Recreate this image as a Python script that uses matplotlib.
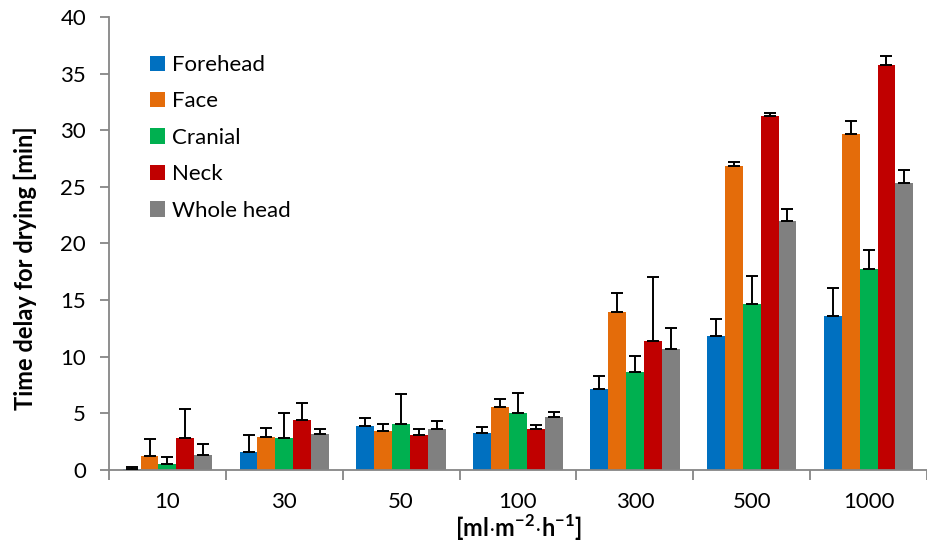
import numpy as np
import matplotlib
matplotlib.use('Agg')
import matplotlib.pyplot as plt

# Flow rates and measured drying delays (mean and upper SD)
flow_rates = ['10', '30', '50', '100', '300', '500', '1000']
regions = ['Forehead', 'Face', 'Cranial', 'Neck', 'Whole head']
colors = ['#0070C0', '#E46C0A', '#00B050', '#C00000', '#808080']

forehead = [0.10, 1.56, 3.88, 3.29, 7.15, 11.86, 13.59]
face = [1.24, 2.91, 3.41, 5.56, 13.91, 26.80, 29.65]
cranial = [0.53, 2.82, 4.06, 5.03, 8.68, 14.65, 17.71]
neck = [2.80, 4.38, 3.12, 3.62, 11.41, 31.27, 35.80]
whole_head = [1.29, 3.18, 3.62, 4.68, 10.65, 21.97, 25.30]

forehead_sd = [0.15, 1.53, 0.71, 0.47, 1.15, 1.47, 2.50]
face_sd = [1.47, 0.83, 0.68, 0.73, 1.68, 0.38, 1.18]
cranial_sd = [0.65, 2.24, 2.68, 1.79, 1.35, 2.50, 1.76]
neck_sd = [2.60, 1.50, 0.50, 0.35, 5.60, 0.27, 0.76]
whole_head_sd = [1.00, 0.47, 0.70, 0.44, 1.85, 1.06, 1.20]

means = [forehead, face, cranial, neck, whole_head]
sds = [forehead_sd, face_sd, cranial_sd, neck_sd, whole_head_sd]

plt.rcParams['font.family'] = ['Lato', 'DejaVu Sans']
plt.rcParams['mathtext.fontset'] = 'custom'
plt.rcParams['mathtext.rm'] = 'Lato'
plt.rcParams['mathtext.bf'] = 'Lato:bold'

fig = plt.figure(figsize=(9.27, 5.46), dpi=100)
ax = fig.add_axes([109 / 927, 76 / 546, 1 - 109 / 927, 453 / 546])

x = np.arange(len(flow_rates))
width = 0.153
for i, (name, vals, err, c) in enumerate(zip(regions, means, sds, colors)):
    pos = x + (i - 2) * width
    ax.bar(pos, vals, width, color=c, label=name, zorder=2)
    ax.errorbar(pos, vals, yerr=[np.zeros(len(vals)), err], fmt='none',
                ecolor='black', elinewidth=1.4, capsize=4.5, capthick=1.4,
                zorder=3)

ax.set_ylim(0, 40)
ax.set_xlim(-0.5, 6.43)
ax.set_yticks(np.arange(0, 41, 5))

# category boundaries as tick marks, labels at centres
ax.set_xticks(np.arange(-0.5, 7, 1))
ax.set_xticklabels([])
ax.set_xticks(x, minor=True)
ax.set_xticklabels(flow_rates, minor=True)
ax.tick_params(axis='x', which='major', length=7, width=1.3, color='#868686')
ax.tick_params(axis='x', which='minor', length=0, pad=16, labelsize=16)
ax.tick_params(axis='y', length=6.5, width=1.3, color='#868686', labelsize=16, pad=10)

for s in ['top', 'right']:
    ax.spines[s].set_visible(False)
for s in ['left', 'bottom']:
    ax.spines[s].set_color('#868686')
    ax.spines[s].set_linewidth(1.3)

fig.text(25 / 927, 1 - 268 / 546, 'Time delay for drying [min]', rotation=90,
         ha='center', va='center', fontsize=17, fontweight='bold')
ax.set_xlabel(r'[ml$\cdot$m$^{\mathbf{-2}}$$\cdot$h$^{\mathbf{-1}}$]', fontsize=17,
              fontweight='bold', labelpad=0)

ax.legend(loc='upper left', bbox_to_anchor=(150 / 927, 1 - 55 / 546),
          bbox_transform=fig.transFigure, frameon=False, fontsize=16,
          handlelength=0.68, handleheight=0.68, handletextpad=0.32,
          labelspacing=0.74, borderaxespad=0, borderpad=0)

fig.savefig('out.png', dpi=100)
